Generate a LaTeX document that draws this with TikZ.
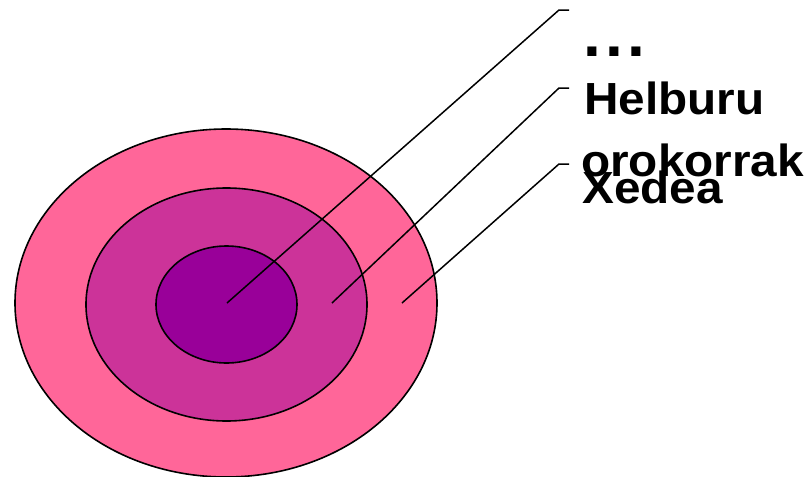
\documentclass[tikz,border=0pt]{standalone}
\usepackage{fontspec}
\setmainfont{Liberation Sans}
\usetikzlibrary{shapes.geometric}
\definecolor{ringA}{RGB}{255,102,153}
\definecolor{ringB}{RGB}{204,51,153}
\definecolor{ringC}{RGB}{153,0,153}
\tikzset{
  ring/.style={ellipse, draw=black, line width=1.6pt, inner sep=0pt},
  leader/.style={draw=black, line width=1.5pt},
  lbl/.style={anchor=base west, inner sep=0pt, font=\bfseries\fontsize{45}{54}\selectfont, xscale=1.06, transform shape},
  dotlbl/.style={anchor=base west, inner sep=0pt, font=\bfseries\fontsize{64}{70}\selectfont}
}
\begin{document}
\begin{tikzpicture}[x=1pt,y=-1pt]
\useasboundingbox (0,0) rectangle (812,477);
\node[ring, fill=ringA, minimum width=422pt, minimum height=348pt] (outer) at (226,303) {};
\node[ring, fill=ringB, minimum width=281pt, minimum height=233pt] (middle) at (226.5,304.5) {};
\node[ring, fill=ringC, minimum width=141pt, minimum height=117pt] (inner) at (226.5,304.5) {};
\coordinate (p1) at (227,303);
\coordinate (p2) at (332,303);
\coordinate (p3) at (402,303);
\coordinate (b1) at (559,10);
\coordinate (e1) at (569,10);
\coordinate (b2) at (559,88);
\coordinate (e2) at (569,88);
\coordinate (b3) at (559,164);
\coordinate (e3) at (569,164);
\draw[leader] (p1) -- (b1) -- (e1);
\draw[leader] (p2) -- (b2) -- (e2);
\draw[leader] (p3) -- (b3) -- (e3);
\node[dotlbl] (dots) at (583.5,56) {.\kern4.2pt.\kern4.2pt.};
\node[lbl] (helburu) at (584,114.5) {Helburu};
\node[lbl] (orokorrak) at (581,176) {orokorrak};
\node[lbl] (xedea) at (582,203) {Xedea};
\end{tikzpicture}
\end{document}
